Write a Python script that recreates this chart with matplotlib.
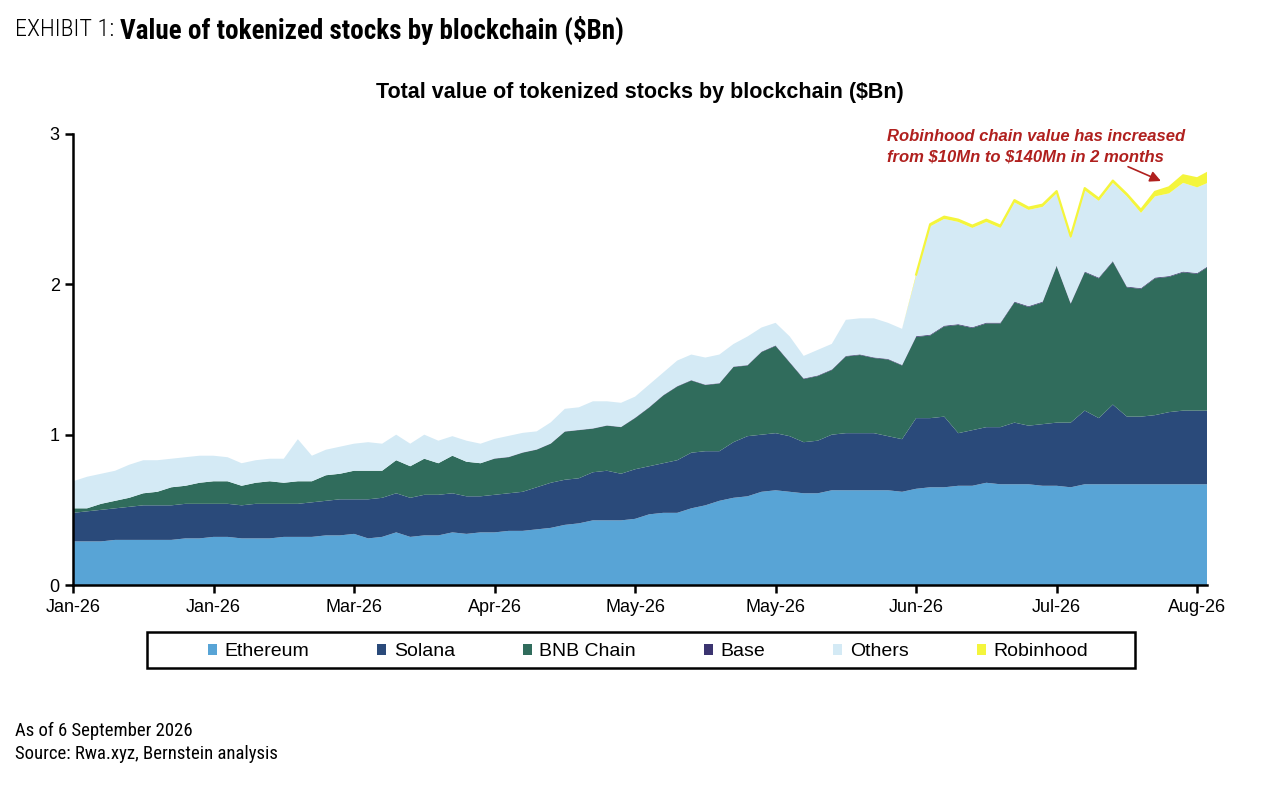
import numpy as np
import matplotlib
matplotlib.use("Agg")
import matplotlib.pyplot as plt
from matplotlib.patches import Patch, Rectangle

plt.rcParams['font.family'] = ['Liberation Sans', 'DejaVu Sans']

# values in $Bn (one point every ~1/10 of a tick interval)
ethereum = [.29, .29, .29, .30, .30, .30, .30, .30, .31, .31,
            .32, .32, .31, .31, .31, .32, .32, .32, .33, .33,
            .34, .31, .32, .35, .32, .33, .33, .35, .34, .35,
            .35, .36, .36, .37, .38, .40, .41, .43, .43, .43,
            .44, .47, .48, .48, .51, .53, .56, .58, .59, .62,
            .63, .62, .61, .61, .63, .63, .63, .63, .63, .62,
            .64, .65, .65, .66, .66, .68, .67, .67, .67, .66,
            .66, .65, .67, .67, .67, .67, .67, .67, .67, .67,
            .67, .67]
solana = [.19, .20, .21, .21, .22, .23, .23, .23, .23, .23,
          .22, .22, .22, .23, .23, .22, .22, .23, .23, .24,
          .23, .26, .26, .26, .26, .27, .27, .26, .25, .24,
          .25, .25, .26, .28, .30, .30, .30, .32, .33, .31,
          .33, .32, .33, .35, .37, .36, .33, .37, .40, .38,
          .38, .37, .34, .35, .37, .38, .38, .38, .36, .35,
          .47, .46, .47, .35, .37, .37, .38, .41, .39, .41,
          .42, .43, .49, .44, .53, .45, .45, .46, .48, .49,
          .49, .49]
bnb_chain = [.03, .02, .04, .05, .06, .08, .09, .12, .12, .14,
             .15, .15, .13, .14, .15, .14, .15, .14, .17, .17,
             .19, .19, .18, .22, .21, .24, .21, .25, .23, .22,
             .24, .24, .26, .25, .26, .32, .32, .29, .30, .31,
             .34, .39, .45, .49, .48, .44, .45, .50, .47, .55,
             .58, .49, .42, .43, .43, .51, .52, .50, .51, .49,
             .54, .55, .60, .72, .68, .69, .69, .80, .79, .81,
             1.04, .79, .92, .93, .95, .86, .85, .91, .90, .92,
             .91, .97]
base = [0, 0, 0, 0, 0, 0, 0, 0, 0, 0,
        0, 0, 0, 0, 0, 0, 0, 0, 0, 0,
        0, 0, 0, 0, 0, 0, 0, 0, 0, 0,
        .002, .002, .002, .002, .002, .002, .002, .002, .002, .002,
        .003, .003, .003, .003, .003, .003, .003, .003, .003, .003,
        .004, .004, .004, .004, .004, .004, .004, .004, .004, .004,
        .005, .005, .005, .005, .005, .005, .005, .005, .005, .005,
        .005, .005, .005, .005, .005, .005, .005, .005, .005, .005,
        .005, .005]
others = [.18, .21, .20, .20, .22, .22, .21, .19, .19, .18,
          .17, .16, .15, .15, .15, .16, .28, .17, .17, .18,
          .18, .19, .18, .17, .15, .16, .15, .13, .14, .13,
          .13, .14, .13, .12, .14, .15, .15, .18, .16, .16,
          .14, .15, .15, .17, .17, .18, .19, .15, .19, .16,
          .15, .17, .15, .17, .17, .24, .24, .26, .24, .24,
          .40, .72, .71, .68, .66, .67, .63, .66, .64, .63,
          .48, .43, .54, .51, .52, .60, .50, .54, .55, .59,
          .57, .55]
robinhood = [0, 0, 0, 0, 0, 0, 0, 0, 0, 0,
             0, 0, 0, 0, 0, 0, 0, 0, 0, 0,
             0, 0, 0, 0, 0, 0, 0, 0, 0, 0,
             0, 0, 0, 0, 0, 0, 0, 0, 0, 0,
             0, 0, 0, 0, 0, 0, 0, 0, 0, 0,
             0, 0, 0, 0, 0, 0, 0, 0, 0, 0,
             .01, .015, .015, .015, .015, .015, .015, .015, .015, .015,
             .015, .015, .015, .015, .015, .015, .02, .03, .04, .05,
             .06, .07]

series_names = ["Ethereum", "Solana", "BNB Chain", "Base", "Others", "Robinhood"]
colors = ["#58A4D6", "#2A4A7A", "#306C5C", "#3B3470", "#D4EAF5", "#F4F53C"]

tick_pos = [0, 10, 20, 30, 40, 50, 60, 70, 80]
tick_labels = ["Jan-26", "Jan-26", "Mar-26", "Apr-26", "May-26", "May-26",
               "Jun-26", "Jul-26", "Aug-26"]

x = np.arange(len(ethereum))

fig = plt.figure(figsize=(12.64, 7.86), dpi=100)
ax = fig.add_axes([73 / 1264, 1 - 585 / 786, 1134 / 1264, 451 / 786])

ax.stackplot(x, ethereum, solana, bnb_chain, base, others, robinhood,
             colors=colors, linewidth=0)
# yellow edge so the thin Robinhood layer stays visible
top = np.sum([ethereum, solana, bnb_chain, base, others, robinhood], axis=0)
rh = np.array(robinhood)
ax.plot(np.where(rh > 0, x, np.nan), np.where(rh > 0, top, np.nan),
        color="#F4F53C", lw=1.6)

ax.set_xlim(0, 80.7)
ax.set_ylim(0, 3)
ax.set_xticks(tick_pos)
ax.set_xticklabels(tick_labels)
ax.set_yticks([0, 1, 2, 3])
ax.tick_params(axis="both", labelsize=13, width=1.8, length=6, direction="out")
ax.tick_params(axis="x", pad=4)
for s in ["top", "right"]:
    ax.spines[s].set_visible(False)
for s in ["left", "bottom"]:
    ax.spines[s].set_linewidth(1.8)

ax.set_title(r"Total value of tokenized stocks by blockchain (\$Bn)",
             fontsize=15.5, fontweight="bold", pad=26)

ax.text(57.95, 2.80, "Robinhood chain value has increased\nfrom \\$10Mn to \\$140Mn in 2 months",
        color="#B0201E", fontsize=12, fontweight="bold", style="italic",
        ha="left", va="bottom", linespacing=1.45, clip_on=False)
ax.annotate("", xy=(77.6, 2.68), xytext=(74.9, 2.79),
            arrowprops=dict(arrowstyle="-|>", color="#B0201E", lw=1.2,
                            mutation_scale=16), annotation_clip=False)

# legend: frame drawn as a box, entries centred inside it
fig.patches.append(Rectangle((147 / 1264, 1 - 668 / 786), 988 / 1264, 36 / 786,
                             transform=fig.transFigure, fill=False,
                             edgecolor="black", linewidth=1.8))
handles = [Patch(facecolor=c, edgecolor="none", label=n) for n, c in zip(series_names, colors)]
fig.legend(handles=handles, loc="center", bbox_to_anchor=(648 / 1264, 1 - 652 / 786),
           ncol=6, fontsize=14, frameon=False, handlelength=0.45, handleheight=0.45,
           handletextpad=0.4, columnspacing=3.5, borderaxespad=0)

hdr_font = ['Roboto Condensed', 'Roboto', 'DejaVu Sans']
t1 = fig.text(15 / 1264, 1 - 30 / 786, "EXHIBIT 1: ", fontsize=17.5, family=hdr_font,
              fontweight="light", va="center", ha="left")
fig.canvas.draw()
bb = t1.get_window_extent()
fig.text(bb.x1 / 1264, 1 - 30 / 786, r"Value of tokenized stocks by blockchain (\$Bn)",
         fontsize=19.5, family=hdr_font, fontweight="bold", va="center", ha="left")

fig.text(15 / 1264, 1 - 731 / 786, "As of 6 September 2026", fontsize=13.5,
         family=hdr_font, va="center")
fig.text(15 / 1264, 1 - 754 / 786, "Source: Rwa.xyz, Bernstein analysis", fontsize=13.5,
         family=hdr_font, va="center")

fig.savefig("out.png", dpi=100)
